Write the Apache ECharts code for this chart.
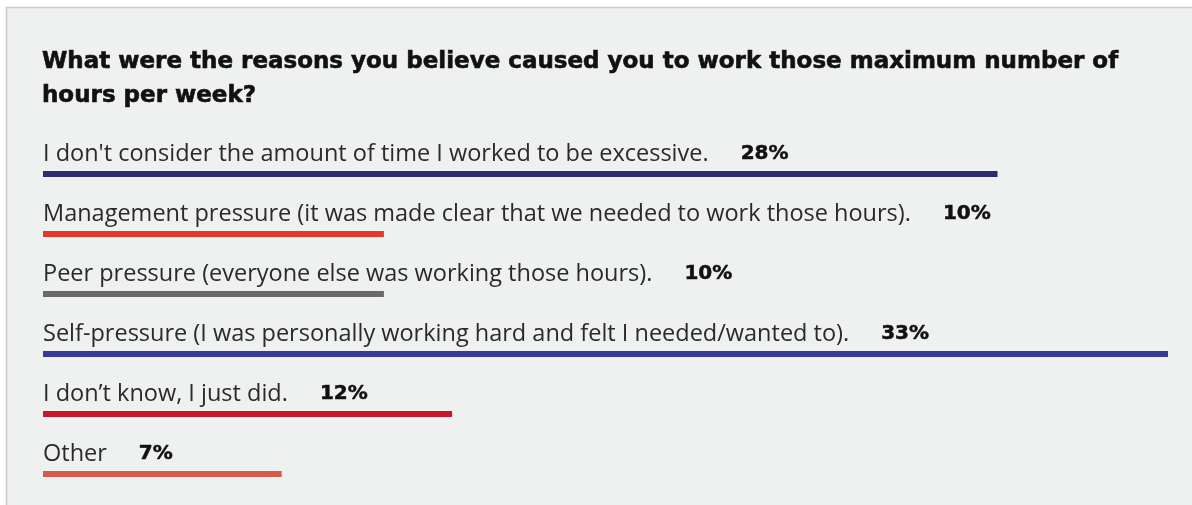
<!DOCTYPE html>
<html>
<head>
<meta charset="utf-8">
<style>
  html, body { margin: 0; padding: 0; background: #ffffff; }
  #chart { width: 1192px; height: 505px; }
</style>
<script src="https://cdn.jsdelivr.net/npm/echarts@6/dist/echarts.min.js"></script>
</head>
<body>
<div id="chart"></div>
<script>
// Survey answers, in the order they are listed
const reasons = [
  "I don't consider the amount of time I worked to be excessive.",
  "Management pressure (it was made clear that we needed to work those hours).",
  "Peer pressure (everyone else was working those hours).",
  "Self-pressure (I was personally working hard and felt I needed/wanted to).",
  "I don\u2019t know, I just did.",
  "Other"
];
// Share of respondents, percent
const shares = [28, 10, 10, 33, 12, 7];
// One colour per answer
const barColors = ["#2f2b6f", "#e3382a", "#6a6a6a", "#383b95", "#c8182f", "#d65b4b"];

const titleText = "What were the reasons you believe caused you to work those maximum number of\nhours per week?";

const chart = echarts.init(document.getElementById('chart'), null, { renderer: 'canvas' });

chart.setOption({
  backgroundColor: '#ffffff',
  animation: false,
  graphic: [{
    type: 'rect',
    z: -10,
    shape: { x: 6.5, y: 7.5, width: 1200, height: 600 },
    style: { fill: '#eff0f0', stroke: '#c9c9c9', lineWidth: 1.5 }
  }],
  title: {
    text: titleText,
    left: 42,
    top: 45,
    padding: 0,
    textStyle: {
      fontFamily: 'DejaVu Sans',
      fontWeight: 'bold',
      fontSize: 23,
      lineHeight: 34,
      color: '#111111',
      textBorderColor: '#111111',
      textBorderWidth: 0.6
    }
  },
  grid: { left: 43, right: 24, top: 144, bottom: 1, containLabel: false },
  xAxis: {
    type: 'value', min: 0, max: 33, show: false
  },
  yAxis: {
    type: 'category', inverse: true, data: reasons, show: false
  },
  series: [{
    type: 'bar',
    barWidth: 6,
    data: shares.map((v, i) => ({ value: v, itemStyle: { color: barColors[i] } })),
    label: {
      show: true,
      position: [0, -17],
      verticalAlign: 'middle',
      align: 'left',
      formatter: p => '{t|' + reasons[p.dataIndex] + '}{g|}{v|' + p.value + '%}',
      rich: {
        t: { fontFamily: 'Open Sans', fontSize: 23.5, color: '#2a2a2a', lineHeight: 28 },
        g: { width: 32 },
        v: {
          fontFamily: 'DejaVu Sans', fontWeight: 'bold', fontSize: 20, color: '#111111', lineHeight: 28,
          textBorderColor: '#111111', textBorderWidth: 0.5
        }
      }
    }
  }]
});
</script>
</body>
</html>
